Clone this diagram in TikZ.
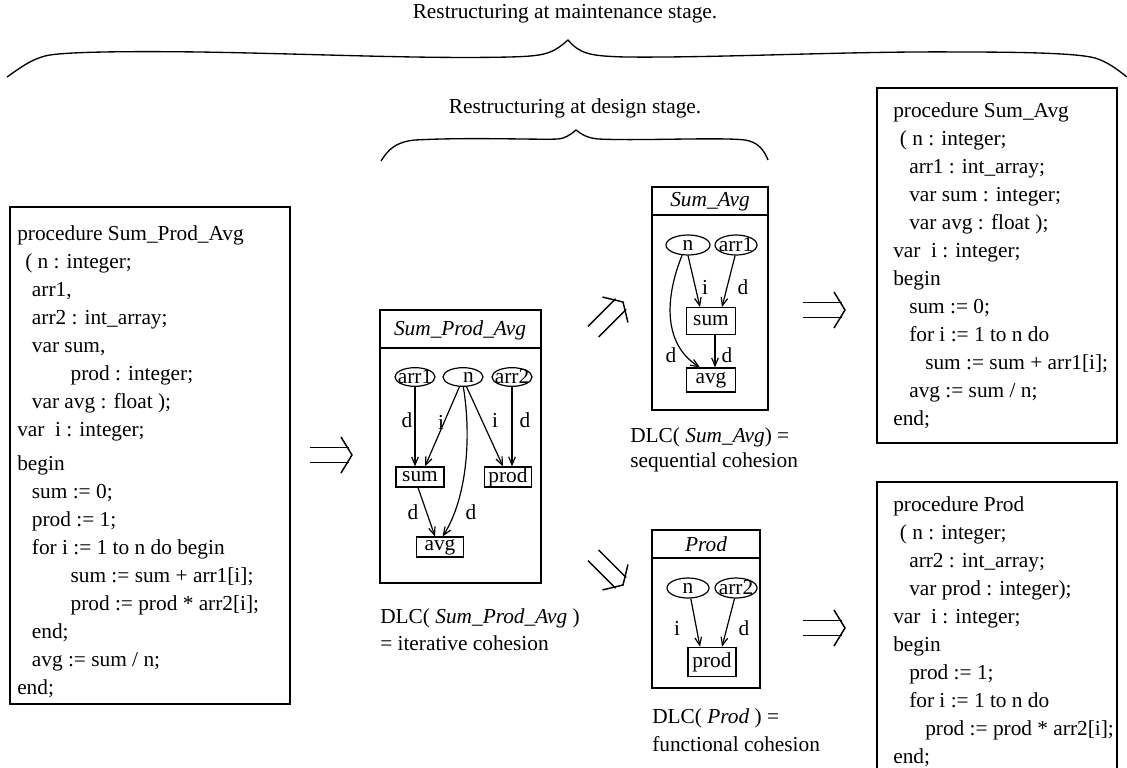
\documentclass[tikz,border=0pt]{standalone}
\usepackage{fontspec}
\setmainfont{Liberation Serif}
\usetikzlibrary{arrows.meta,shapes.geometric}

\begin{document}
\begin{tikzpicture}[x=0.75pt,y=-0.75pt,
  every node/.style={inner sep=0pt},
  txt/.style={font=\fontsize{16}{21}\selectfont},
  ittxt/.style={font=\fontsize{16}{21}\selectfont\itshape},
  code/.style={txt, align=left, anchor=north west},
  frame/.style={draw, line width=1.1pt},
  ell/.style={draw, ellipse, line width=0.9pt, minimum width=#1, minimum height=15pt},
  gbox/.style={draw, rectangle, line width=0.9pt, txt},
  edge/.style={draw, line width=0.9pt, -{Straight Barb[length=6pt,width=5pt]}},
  impl/.pic={
    \draw[line width=1.1pt] (-42,-7.5) -- (-3,-7.5);
    \draw[line width=1.1pt] (-42,7.5) -- (-3,7.5);
    \draw[line width=1.1pt] (-11,-18) .. controls (-6,-9) .. (0,0) .. controls (-6,9) .. (-11,18);
  }
]
\useasboundingbox (0,0) rectangle (1127,767);

% headings and braces
\node[txt] (maint) at (565,14) {Restructuring at maintenance stage.};
\draw[line width=1pt] (7,77) .. controls (20,68) and (30,60) .. (45,56)
  .. controls (60,52) and (120,51) .. (200,52)
  .. controls (320,54) and (420,59) .. (510,57)
  .. controls (545,56) and (552,54) .. (568,40)
  .. controls (580,54) and (590,56) .. (625,57)
  .. controls (720,58) and (850,51) .. (960,52)
  .. controls (1040,52) and (1080,54) .. (1095,58)
  .. controls (1108,62) and (1118,70) .. (1127,77);

\node[txt] (design) at (575,108) {Restructuring at design stage.};
\draw[line width=1pt] (381,161) .. controls (388,150) and (395,142) .. (415,140)
  .. controls (470,137) and (540,140) .. (558,139)
  .. controls (566,138) and (570,135) .. (576,130)
  .. controls (582,135) and (588,138) .. (598,139)
  .. controls (640,141) and (720,137) .. (745,140)
  .. controls (758,142) and (764,150) .. (768,160);

% original procedure
\draw[frame] (10,207) rectangle (290,704);
\node[code] (origcode) at (17,225) {procedure Sum\_Prod\_Avg\\
\hspace*{6pt}( n : integer;\\
\hspace*{11pt}arr1,\\
\hspace*{11pt}arr2 : int\_array;\\
\hspace*{11pt}var sum,\\
\hspace*{40pt}prod : integer;\\
\hspace*{11pt}var avg : float );\\
var\ \ i : integer;\\[5pt]
begin\\
\hspace*{11pt}sum := 0;\\
\hspace*{11pt}prod := 1;\\
\hspace*{11pt}for i := 1 to n do begin\\
\hspace*{40pt}sum := sum + arr1[i];\\
\hspace*{40pt}prod := prod * arr2[i];\\
\hspace*{11pt}end;\\
\hspace*{11pt}avg := sum / n;\\
end;};

% dependence graph of Sum_Prod_Avg
\draw[frame] (380,310) rectangle (541,583);
\draw[frame] (380,348) -- (541,348);
\node[ittxt] (mtitle) at (460,330) {Sum\_Prod\_Avg};
\node[ell=30pt, minimum height=14pt, label={[txt]center:arr1}] (ma1) at (415,377) {};
\node[ell=30pt, minimum height=14pt, label={[txt, xshift=4pt]center:n}] (mn) at (463,377) {};
\node[ell=30pt, minimum height=14pt, label={[txt]center:arr2}] (ma2) at (512,377) {};
\node[gbox, minimum width=36pt, minimum height=15pt] (msum) at (420,477) {sum};
\node[gbox, minimum width=35pt, minimum height=15pt] (mprod) at (508,477) {prod};
\node[gbox, minimum width=35pt, minimum height=15pt] (mavg) at (440,547) {avg};
\draw[edge] (ma1.south) -- (ma1.south |- msum.north);
\draw[edge] (mn.250) -- ([xshift=3.75pt]msum.north);
\draw[edge] (mn.290) -- ([xshift=-3.75pt]mprod.north);
\draw[edge] (ma2.south) -- (ma2.south |- mprod.north);
\draw[edge] ([xshift=-1.5pt]msum.south) -- ([xshift=-3.75pt]mavg.north);
\draw[edge] (mn.272) .. controls (472,440) and (466,500) .. ([xshift=2pt]mavg.north);
\node[txt] (ml1) at (407,420) {d};
\node[txt] (ml2) at (441,422) {i};
\node[txt] (ml3) at (495,420) {i};
\node[txt] (ml4) at (525,420) {d};
\node[txt] (ml5) at (413,512) {d};
\node[txt] (ml6) at (471,512) {d};
\node[txt, anchor=west] (mcap1) at (380,618) {DLC( \textit{Sum\_Prod\_Avg} )};
\node[txt, anchor=west] (mcap2) at (380,643) {= iterative cohesion};

% dependence graph of Sum_Avg
\draw[frame] (652,187) rectangle (768,410);
\draw[frame] (652,215) -- (768,215);
\node[ittxt] (stitle) at (710,202) {Sum\_Avg};
\node[ell=33pt, label={[txt]center:n}] (sn) at (688,245) {};
\node[ell=31.5pt, label={[txt]center:arr1}] (sa1) at (736,245) {};
\node[gbox, minimum width=37pt, minimum height=20pt] (ssum) at (711,321) {sum};
\node[gbox, minimum width=37pt, minimum height=18pt] (savg) at (711,380) {avg};
\draw[edge] (sn.south) -- ([xshift=-8.25pt]ssum.north);
\draw[edge] (sa1.265) -- ([xshift=8.25pt]ssum.north);
\draw[edge] ([xshift=3pt]ssum.south) -- ([xshift=3pt]savg.north);
\draw[edge] (sn.240) .. controls (664,300) and (664,345) .. ([xshift=-8.25pt]savg.north);
\node[txt] (sl1) at (705,287) {i};
\node[txt] (sl2) at (743,287) {d};
\node[txt] (sl3) at (671,355) {d};
\node[txt] (sl4) at (727,355) {d};
\node[txt, anchor=west] (scap1) at (630,437) {DLC( \textit{Sum\_Avg}) =};
\node[txt, anchor=west] (scap2) at (630,462) {sequential cohesion};

% dependence graph of Prod
\draw[frame] (652,530) rectangle (760,688);
\draw[frame] (652,558) -- (760,558);
\node[ittxt] (ptitle) at (706,544) {Prod};
\node[ell=31.5pt, label={[txt]center:n}] (pn) at (688,588) {};
\node[ell=31.5pt, label={[txt]center:arr2}] (pa2) at (736,588) {};
\node[gbox, minimum width=36pt, minimum height=22pt] (pprod) at (712,662) {prod};
\draw[edge] (pn.285) -- ([xshift=-9pt]pprod.north);
\draw[edge] (pa2.262) -- ([xshift=7.5pt]pprod.north);
\node[txt] (pl1) at (677,628) {i};
\node[txt] (pl2) at (744,628) {d};
\node[txt, anchor=west] (pcap1) at (652,718) {DLC( \textit{Prod} ) =};
\node[txt, anchor=west] (pcap2) at (652,744) {functional cohesion};

% restructured procedures
\draw[frame] (877,88) rectangle (1117,443);
\node[code] (sumavgcode) at (893,102) {procedure Sum\_Avg\\
\hspace*{5pt}( n : integer;\\
\hspace*{12pt}arr1 : int\_array;\\
\hspace*{12pt}var sum : integer;\\
\hspace*{12pt}var avg : float );\\
var\ \ i : integer;\\
begin\\
\hspace*{12pt}sum := 0;\\
\hspace*{12pt}for i := 1 to n do\\
\hspace*{24pt}sum := sum + arr1[i];\\
\hspace*{12pt}avg := sum / n;\\
end;};

\draw[frame] (877,482) rectangle (1117,800);
\node[code] (prodcode) at (893,496) {procedure Prod\\
\hspace*{5pt}( n : integer;\\
\hspace*{12pt}arr2 : int\_array;\\
\hspace*{12pt}var prod : integer);\\
var\ \ i : integer;\\
begin\\
\hspace*{12pt}prod := 1;\\
\hspace*{12pt}for i := 1 to n do\\
\hspace*{24pt}prod := prod * arr2[i];\\
end;};

% transformation arrows
\coordinate (imp1) at (352,455);
\coordinate (imp2) at (623,302);
\coordinate (imp3) at (623,585);
\coordinate (imp4) at (845,310);
\coordinate (imp5) at (845,628);
\pic at (imp1) {impl};
\pic[rotate=45] at (imp2) {impl};
\pic[rotate=-45] at (imp3) {impl};
\pic at (imp4) {impl};
\pic at (imp5) {impl};
\end{tikzpicture}
\end{document}
